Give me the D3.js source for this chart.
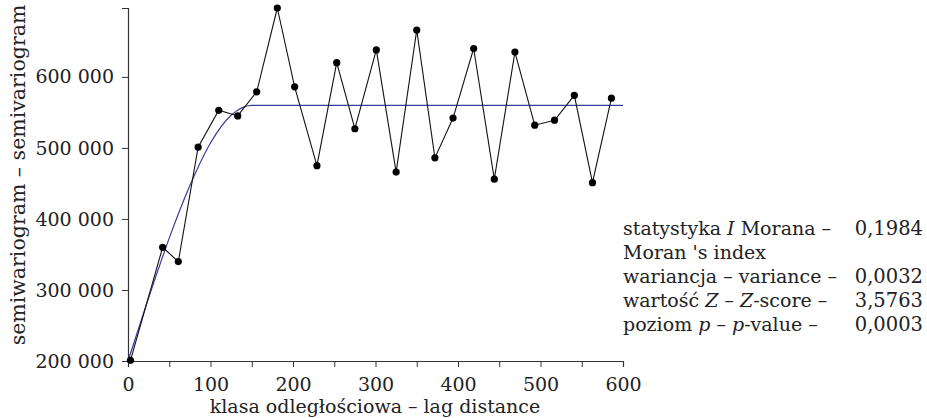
<!DOCTYPE html>
<html>
<head>
<meta charset="utf-8">
<script src="https://cdn.jsdelivr.net/npm/d3@7"></script>
<style>
  body { margin: 0; background: #fff; }
  svg text { font-family: "DejaVu Serif", serif; fill: #222; }
</style>
</head>
<body>
<script>
// empirical semivariogram (lag distance, semivariance)
const lags = [3, 42, 61, 85, 110, 133, 156, 181, 202, 229, 253, 275, 301, 325, 350,
  372, 394, 419, 444, 469, 493, 517, 541, 563, 586];
const gamma = [201000, 360000, 340000, 501000, 553000, 545000, 579000, 697000, 586000,
  475000, 620000, 527000, 638000, 466000, 666000, 486000, 542000, 640000, 456000,
  635000, 532000, 539000, 574000, 451000, 570000];

// fitted model line
const modelLags = [0, 25, 50, 75, 100, 125, 150, 600];
const modelGamma = [200000, 289000, 373000, 447000, 507000, 546000, 560000, 560000];

const yTicks = [200000, 300000, 400000, 500000, 600000];
const xTicks = [0, 50, 100, 150, 200, 250, 300, 350, 400, 450, 500, 550, 600];

const stats = [
  { label: [["statystyka "], ["I", true], [" Morana –"]], value: "0,1984" },
  { label: [["Moran 's index"]], value: "" },
  { label: [["wariancja – variance –"]], value: "0,0032" },
  { label: [["wartość "], ["Z", true], [" – "], ["Z", true], ["-score –"]], value: "3,5763" },
  { label: [["poziom "], ["p", true], [" – "], ["p", true], ["-value –"]], value: "0,0003" }
];

const w = 927, h = 418;
const svg = d3.select("body").append("svg").attr("width", w).attr("height", h);

const x = d3.scaleLinear().domain([0, 600]).range([128, 623]);
const y = d3.scaleLinear().domain([200000, d3.max(gamma)]).range([361, 8]);

const fmtY = v => d3.format(",d")(v).replace(/,/g, " ");

const xAxis = svg.append("g").attr("transform", "translate(0,361)")
  .call(d3.axisBottom(x).tickValues(xTicks).tickSizeOuter(0).tickSize(6)
    .tickFormat(d => d % 100 === 0 ? d : ""));
const yAxis = svg.append("g").attr("transform", "translate(128,0)")
  .call(d3.axisLeft(y).tickValues(yTicks).tickSizeOuter(0).tickSize(6).tickFormat(fmtY));

[xAxis, yAxis].forEach(g => {
  g.select(".domain").attr("stroke", "#333").attr("stroke-width", 1.2);
  g.selectAll(".tick line").attr("stroke", "#333");
  g.selectAll(".tick text").attr("font-size", 19).attr("fill", "#222")
    .attr("font-family", "DejaVu Serif, serif");
});
xAxis.selectAll(".tick text").attr("dy", "1.1em");
yAxis.selectAll(".tick text").attr("x", -14);

// model
svg.append("path")
  .datum(modelLags.map((d, i) => [d, modelGamma[i]]))
  .attr("fill", "none").attr("stroke", "#3a3c9c").attr("stroke-width", 1.2)
  .attr("d", d3.line().x(d => x(d[0])).y(d => y(d[1])).curve(d3.curveMonotoneX));

// empirical
const pts = lags.map((d, i) => [d, gamma[i]]);
svg.append("path").datum(pts)
  .attr("fill", "none").attr("stroke", "#111").attr("stroke-width", 1.1)
  .attr("d", d3.line().x(d => x(d[0])).y(d => y(d[1])));
svg.append("g").selectAll("circle").data(pts).join("circle")
  .attr("cx", d => x(d[0])).attr("cy", d => y(d[1])).attr("r", 3.6).attr("fill", "#000");

// axis titles
svg.append("text").attr("x", 375).attr("y", 413).attr("text-anchor", "middle")
  .attr("font-size", 19).text("klasa odległościowa – lag distance");
svg.append("text").attr("transform", "translate(25,175) rotate(-90)")
  .attr("text-anchor", "middle").attr("font-size", 20.5)
  .text("semiwariogram – semivariogram");

// statistics block
const sg = svg.append("g");
stats.forEach((s, i) => {
  const yy = 235 + i * 24;
  const t = sg.append("text").attr("x", 623).attr("y", yy).attr("font-size", 19);
  s.label.forEach(p => t.append("tspan").attr("font-style", p[1] ? "italic" : "normal").text(p[0]));
  sg.append("text").attr("x", 923).attr("y", yy).attr("font-size", 19.5)
    .attr("text-anchor", "end").text(s.value);
});
</script>
</body>
</html>
